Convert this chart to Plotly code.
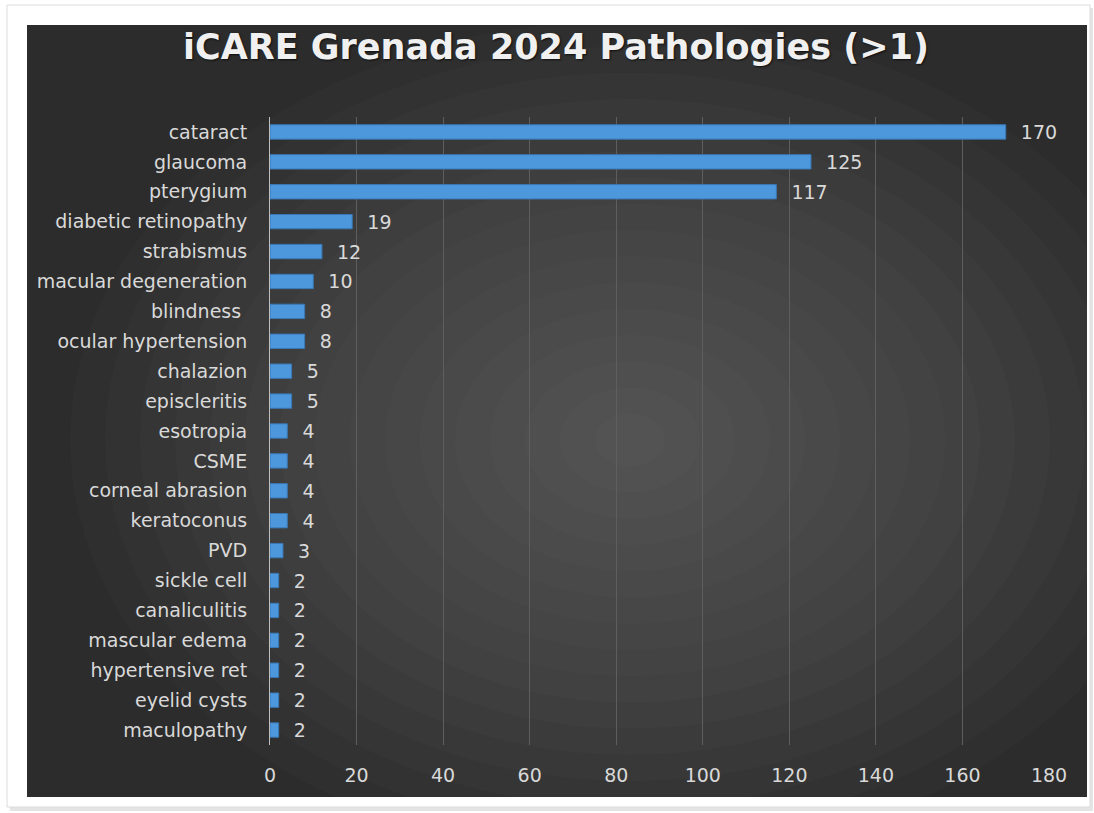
import plotly.graph_objects as go

categories = ["cataract", "glaucoma", "pterygium", "diabetic retinopathy", "strabismus",
              "macular degeneration", "blindness ", "ocular hypertension", "chalazion",
              "episcleritis", "esotropia", "CSME", "corneal abrasion", "keratoconus", "PVD",
              "sickle cell", "canaliculitis", "mascular edema", "hypertensive ret",
              "eyelid cysts", "maculopathy"]
counts = [170, 125, 117, 19, 12, 10, 8, 8, 5, 5, 4, 4, 4, 4, 3, 2, 2, 2, 2, 2, 2]
x_ticks = [0, 20, 40, 60, 80, 100, 120, 140, 160, 180]
title_text = "iCARE Grenada 2024 Pathologies (>1)"

W, H = 1094, 813
ML, MR, MT, MB = 270, 45, 117, 68
pw, ph = W - ML - MR, H - MT - MB


def px_x(p):
    return (p - ML) / pw


def px_y(p):
    return (H - MB - p) / ph


font_fam = "DejaVu Sans, Open Sans, sans-serif"
txt_col = "#d9d9d9"

fig = go.Figure()
fig.add_trace(go.Bar(
    y=categories, x=counts, orientation="h",
    marker=dict(color="#4d97dd", line=dict(color="#3a78b5", width=1)),
    text=counts, texttemplate="  %{x}", textposition="outside",
    textfont=dict(color=txt_col, size=19, family=font_fam),
    cliponaxis=False, constraintext="none",
))

shapes = []
# outer frame with faint shadow
shapes.append(dict(type="rect", xref="paper", yref="paper", layer="below",
                   x0=px_x(10), x1=px_x(1093), y0=px_y(8), y1=px_y(811),
                   fillcolor="#e4e4e4", line=dict(width=0)))
shapes.append(dict(type="rect", xref="paper", yref="paper", layer="below",
                   x0=px_x(7), x1=px_x(1090), y0=px_y(5), y1=px_y(807),
                   fillcolor="#ffffff", line=dict(color="#dcdcdc", width=1)))
# dark panel
shapes.append(dict(type="rect", xref="paper", yref="paper", layer="below",
                   x0=px_x(27), x1=px_x(1087), y0=px_y(25), y1=px_y(797),
                   fillcolor="#2c2c2c", line=dict(width=0)))
# simulated radial gradient (lighter towards the centre)
cx, cy = 630, 440
n = 16
for i in range(n):
    f = 1 - i / n
    rx, ry = 560 * f, 420 * f
    shapes.append(dict(type="circle", xref="paper", yref="paper", layer="below",
                       x0=px_x(cx - rx), x1=px_x(cx + rx), y0=px_y(cy + ry), y1=px_y(cy - ry),
                       fillcolor="rgba(255,255,255,0.014)", line=dict(width=0)))

fig.update_layout(
    width=W, height=H,
    margin=dict(l=ML, r=MR, t=MT, b=MB, autoexpand=False),
    paper_bgcolor="#ffffff", plot_bgcolor="rgba(0,0,0,0)",
    shapes=shapes,
    showlegend=False,
    bargap=0.52,
    title=dict(text="<b>" + title_text + "</b>", x=556 / W, xref="container", xanchor="center",
               y=1 - 47 / H, yref="container", yanchor="middle",
               font=dict(size=35, color="#f0f0f0", family=font_fam,
                         shadow="1px 1px 2px rgba(0,0,0,0.7)")),
    xaxis=dict(range=[0, 180], tickvals=x_ticks, showgrid=True, gridcolor="#5e5e5e",
               gridwidth=1, zeroline=False, showline=False,
               tickfont=dict(size=19, color=txt_col, family=font_fam), ticklabelstandoff=17),
    yaxis=dict(autorange="reversed", showgrid=False, showline=True, linecolor="#bfbfbf",
               linewidth=1, ticks="", ticklabelstandoff=18,
               tickfont=dict(size=19, color=txt_col, family=font_fam)),
)

fig.write_html("out.html", config={"displayModeBar": False},
               post_script="document.body.style.margin='0';document.body.style.padding='0';")
